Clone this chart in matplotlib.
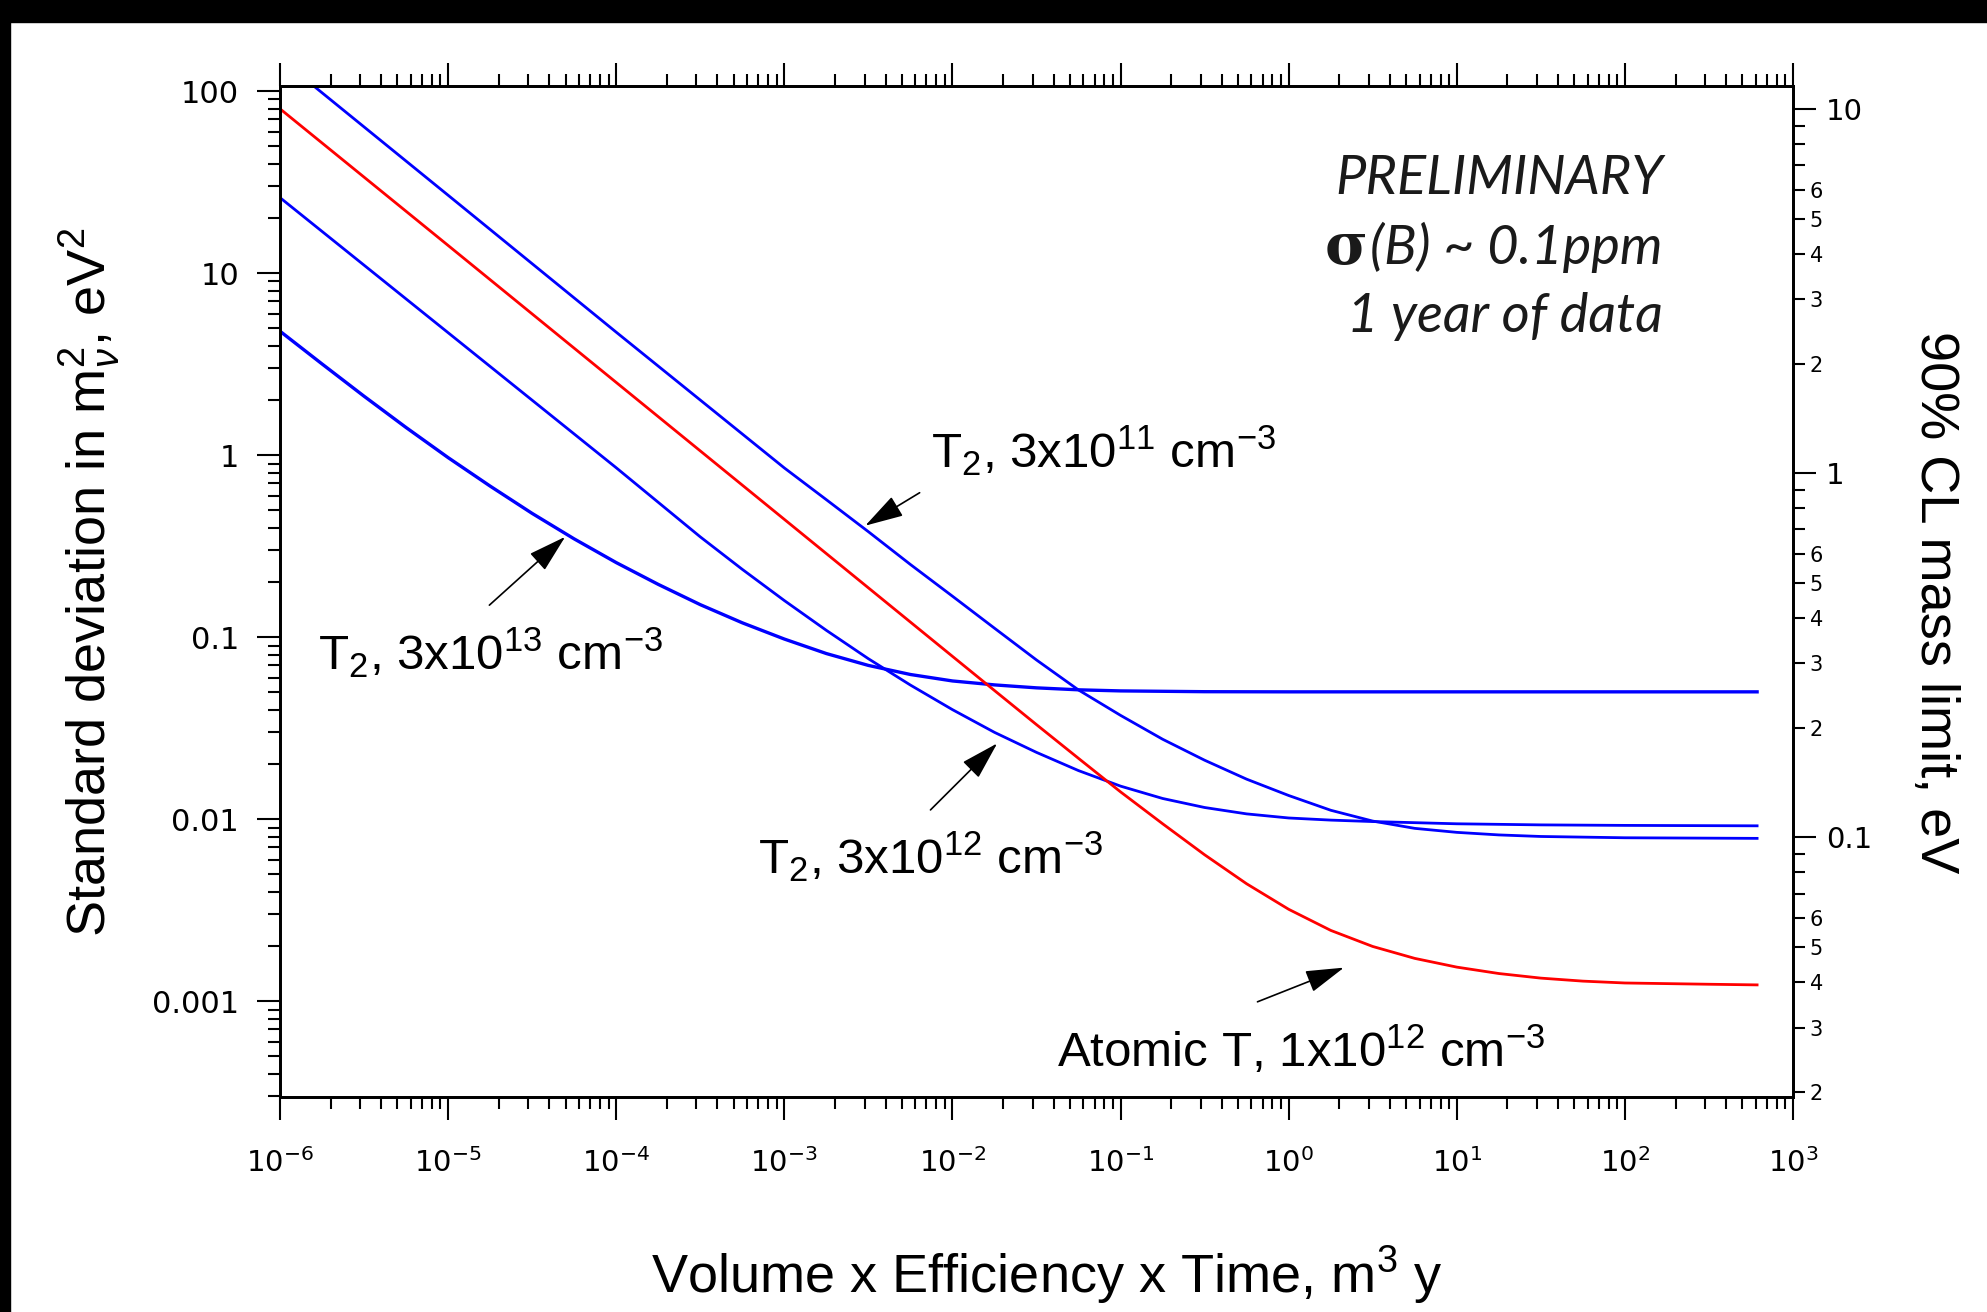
import matplotlib
matplotlib.use('Agg')
import matplotlib.pyplot as plt
from matplotlib.ticker import LogLocator, FuncFormatter, NullFormatter, FixedLocator
from matplotlib.offsetbox import TextArea, HPacker, VPacker, AnchoredOffsetbox
from matplotlib.patches import Rectangle
import numpy as np

plt.rcParams['font.family'] = ['Liberation Sans', 'DejaVu Sans']
plt.rcParams['mathtext.fontset'] = 'custom'
plt.rcParams['mathtext.rm'] = 'Liberation Sans'
plt.rcParams['mathtext.it'] = 'Liberation Sans:italic'
plt.rcParams['mathtext.bf'] = 'Liberation Sans:bold'

# Volume x Efficiency x Time (m^3 y) and standard deviation in m_nu^2 (eV^2)
x_t2_3e11 = [1e-6, 1e-5, 1e-4, 1e-3, 1.78e-3, 3.16e-3, 5.62e-3, 1e-2, 1.78e-2, 3.16e-2, 5.62e-2,
             0.1, 0.178, 0.316, 0.562, 1, 1.78, 3.16, 5.62, 10, 17.8, 31.6, 100, 611]
s_t2_3e11 = [151, 26.8, 4.74, 0.851, 0.569, 0.380, 0.251, 0.168, 0.112, 0.0750, 0.0513,
             0.0372, 0.0275, 0.0211, 0.0166, 0.0135, 0.0112, 0.00977, 0.00891, 0.00847, 0.00820,
             0.00804, 0.00791, 0.00785]

x_t2_3e12 = [1e-6, 1e-5, 1e-4, 3.16e-4, 5.62e-4, 1e-3, 1.78e-3, 3.16e-3, 5.62e-3, 1e-2, 1.78e-2,
             3.16e-2, 5.62e-2, 0.1, 0.178, 0.316, 0.562, 1, 1.78, 3.16, 10, 31.6, 100, 611]
s_t2_3e12 = [26.0, 4.71, 0.853, 0.356, 0.236, 0.159, 0.109, 0.0762, 0.0546, 0.0400, 0.0300,
             0.0233, 0.0185, 0.0152, 0.0130, 0.0116, 0.0107, 0.01016, 0.00989, 0.00971, 0.00944,
             0.00931, 0.00925, 0.00920]

x_t2_3e13 = [1e-6, 1.78e-6, 3.16e-6, 5.62e-6, 1e-5, 1.78e-5, 3.16e-5, 5.62e-5, 1e-4, 1.78e-4,
             3.16e-4, 5.62e-4, 1e-3, 1.78e-3, 3.16e-3, 5.62e-3, 1e-2, 1.78e-2, 3.16e-2, 5.62e-2,
             0.1, 0.316, 1, 611]
s_t2_3e13 = [4.80, 3.17, 2.11, 1.42, 0.970, 0.676, 0.479, 0.347, 0.257, 0.195,
             0.151, 0.120, 0.0977, 0.0813, 0.0700, 0.0624, 0.0575, 0.0547, 0.0527, 0.0514,
             0.0507, 0.0502, 0.0501, 0.0501]

x_atomic = [1e-6, 1e-5, 1e-4, 1e-3, 1e-2, 1.78e-2, 3.16e-2, 5.62e-2, 0.1, 0.178, 0.316, 0.562, 1,
            1.78, 3.16, 5.62, 10, 17.8, 31.6, 56.2, 100, 316, 611]
s_atomic = [80.0, 14.2, 2.51, 0.444, 0.0785, 0.0509, 0.0331, 0.0216, 0.01413, 0.00944, 0.00638,
            0.00442, 0.00320, 0.00245, 0.00200, 0.00172, 0.00154, 0.00142, 0.00134, 0.00129,
            0.00126, 0.00124, 0.00123]

left_ticks = [100, 10, 1, 0.1, 0.01, 0.001]
right_ticks = [10, 1, 0.1]
k_mass = 1.12  # 90% CL mass limit = k * sqrt(sigma)

xlim = (1e-6, 1e3)
ylim = (2.98e-4, 106.8)

fig = plt.figure(figsize=(19.87, 13.12), dpi=100)
ax = fig.add_axes([0.1409, 0.1639, 0.7615, 0.7706])

ax.plot(x_t2_3e11, s_t2_3e11, color='#0000ff', lw=2.0)
ax.plot(x_t2_3e12, s_t2_3e12, color='#0000ff', lw=2.0)
ax.plot(x_t2_3e13, s_t2_3e13, color='#0000ff', lw=2.4)
ax.plot(x_atomic, s_atomic, color='#ff0000', lw=2.0)

ax.set_xscale('log')
ax.set_yscale('log')
ax.set_xlim(*xlim)
ax.set_ylim(*ylim)

ax.xaxis.set_major_locator(LogLocator(base=10, numticks=20))
ax.xaxis.set_minor_locator(LogLocator(base=10, subs=np.arange(2, 10), numticks=20))
ax.xaxis.set_minor_formatter(NullFormatter())
ax.yaxis.set_major_locator(FixedLocator(left_ticks))
ax.yaxis.set_major_formatter(FuncFormatter(lambda v, p: f'{v:g}'))
ax.yaxis.set_minor_locator(LogLocator(base=10, subs=np.arange(2, 10), numticks=20))
ax.yaxis.set_minor_formatter(NullFormatter())

ax.tick_params(axis='both', which='both', direction='out', width=1.5, colors='black')
ax.tick_params(axis='x', which='both', top=True, bottom=True)
ax.tick_params(axis='y', which='both', left=True, right=False)
ax.tick_params(which='major', length=16.5)
ax.tick_params(which='minor', length=8.5)
ax.tick_params(axis='x', which='major', labelsize=21, pad=20, labelfontfamily='DejaVu Sans')
ax.tick_params(axis='y', which='major', labelsize=22, pad=13, labelfontfamily='DejaVu Sans')
for sp in ax.spines.values():
    sp.set_linewidth(2)

# right axis: mass limit
ax2 = ax.twinx()
ax2.set_yscale('log')
ax2.set_ylim(k_mass * np.sqrt(ylim[0]), k_mass * np.sqrt(ylim[1]))
ax2.yaxis.set_major_locator(FixedLocator(right_ticks))
ax2.yaxis.set_major_formatter(FuncFormatter(lambda v, p: f'{v:g}'))
ax2.yaxis.set_minor_locator(LogLocator(base=10, subs=np.arange(2, 10), numticks=20))


def minor_label(v, p):
    m = int(round(v / 10 ** np.floor(np.log10(v) + 1e-9)))
    return str(m) if 2 <= m <= 6 else ''


ax2.yaxis.set_minor_formatter(FuncFormatter(minor_label))
ax2.tick_params(axis='y', which='both', direction='out', width=1.5)
ax2.tick_params(axis='y', which='major', length=16.5, labelsize=21, pad=7, labelfontfamily='DejaVu Sans')
ax2.tick_params(axis='y', which='minor', length=8.5, labelsize=15, pad=3.5, labelfontfamily='DejaVu Sans')
for sp in ax2.spines.values():
    sp.set_linewidth(2)

# axis titles
fig.text(0.0448, 0.556, r'Standard deviation in m$_\nu^\mathdefault{2}$, eV$^\mathdefault{2}$',
         rotation=90, ha='center', va='center', fontsize=39)
fig.text(0.527, 0.0145, r'Volume x Efficiency x Time, m$^\mathdefault{3}$ y',
         ha='center', va='baseline', fontsize=39)
fig.text(0.974, 0.541, '90% CL mass limit, eV', rotation=270, ha='center', va='center', fontsize=39)

# curve labels and arrows
labels = [
    (r'T$_\mathdefault{2}$, 3x10$^\mathdefault{11}$ cm$^\mathdefault{-3}$', (0.0075, 0.853)),
    (r'T$_\mathdefault{2}$, 3x10$^\mathdefault{12}$ cm$^\mathdefault{-3}$', (7.0e-4, 0.00501)),
    (r'T$_\mathdefault{2}$, 3x10$^\mathdefault{13}$ cm$^\mathdefault{-3}$', (1.68e-6, 0.066)),
    (r'Atomic T, 1x10$^\mathdefault{12}$ cm$^\mathdefault{-3}$', (0.042, 4.37e-4)),
]
for txt, pos in labels:
    ax.text(pos[0], pos[1], txt, ha='left', va='baseline', fontsize=35.5)

arrows = [
    ((6.38e-3, 0.622), (3.03e-3, 0.410)),
    ((7.40e-3, 0.01125), (0.01845, 0.0261)),
    ((1.76e-5, 0.150), (4.97e-5, 0.356)),
    ((0.652, 9.93e-4), (2.13, 1.53e-3)),
]
for tail, head in arrows:
    ax.annotate('', xy=head, xytext=tail,
                arrowprops=dict(arrowstyle='-|>,head_length=1.2,head_width=0.35',
                                color='black', lw=1.2, mutation_scale=20,
                                shrinkA=0, shrinkB=0))

# preliminary note
ital = dict(family='Lato', style='italic', weight='normal', size=39, color='#1a1a1a')
row1 = TextArea('PRELIMINARY', textprops=ital)
sig = TextArea('σ', textprops=dict(family='DejaVu Serif', weight='bold', size=42, color='#1a1a1a'))
row2 = HPacker(children=[sig, TextArea('(B) ~ 0.1ppm', textprops=ital)], align='baseline', pad=0, sep=2)
row3 = TextArea('1 year of data', textprops=ital)
note = VPacker(children=[row1, row2, row3], align='right', pad=0, sep=12)
anch = AnchoredOffsetbox(loc='upper right', child=note, pad=0, borderpad=0, frameon=False,
                         bbox_to_anchor=(1663 / 1987, (1312 - 154) / 1312),
                         bbox_transform=fig.transFigure)
ax.add_artist(anch)

# black border strips of the original screenshot
fig.patches.append(Rectangle((0, 1 - 22 / 1312), 1, 22 / 1312, transform=fig.transFigure,
                             color='black', zorder=10))
fig.patches.append(Rectangle((0, 0), 10 / 1987, 1, transform=fig.transFigure,
                             color='black', zorder=10))

fig.savefig('out.png', dpi=100)
